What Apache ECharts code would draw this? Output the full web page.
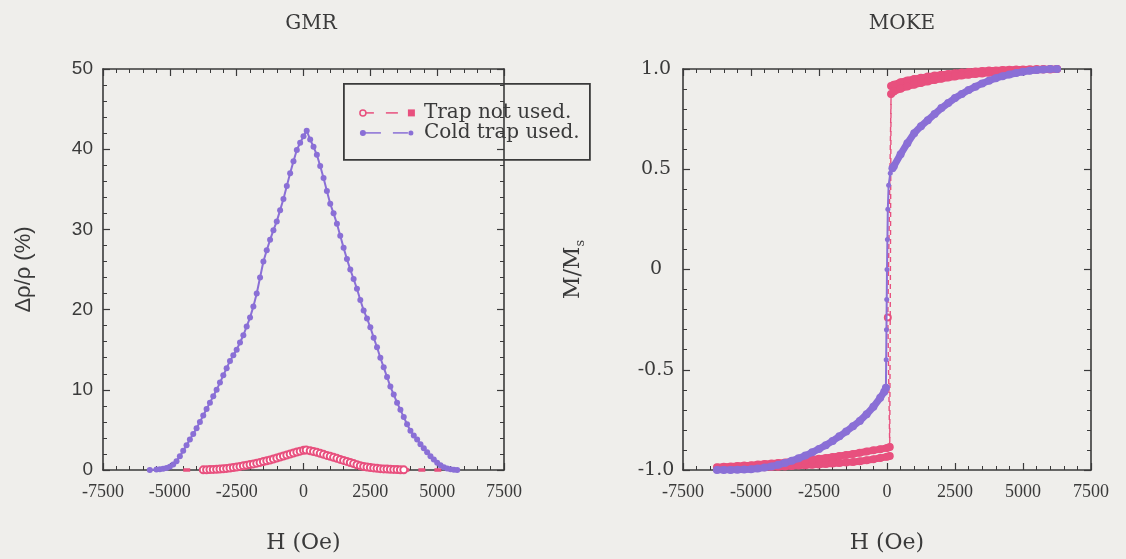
<!DOCTYPE html>
<html>
<head>
<meta charset="utf-8">
<script src="https://cdn.jsdelivr.net/npm/echarts@6/dist/echarts.min.js"></script>
<style>
  html, body { margin: 0; padding: 0; background: #efeeeb; }
  #chart { width: 1126px; height: 559px; }
</style>
</head>
<body>
<div id="chart"></div>
<script>
// ---------------- GMR: Δρ/ρ (%) versus H (Oe) ----------------
const gmrColdField = [-5750, -5500, -5375, -5250, -5125, -5000, -4875, -4750, -4625, -4500, -4375, -4250,
  -4125, -4000, -3875, -3750, -3625, -3500, -3375, -3250, -3125, -3000, -2875, -2750, -2625, -2500, -2375,
  -2250, -2125, -2000, -1875, -1750, -1625, -1500, -1375, -1250, -1125, -1000, -875, -750, -625, -500,
  -375, -250, -125, 0, 120, 250, 375, 500, 625, 750, 875, 1000, 1125, 1250, 1375, 1500, 1625, 1750, 1875,
  2000, 2125, 2250, 2375, 2500, 2625, 2750, 2875, 3000, 3125, 3250, 3375, 3500, 3625, 3750, 3875, 4000,
  4125, 4250, 4375, 4500, 4625, 4750, 4875, 5000, 5125, 5250, 5375, 5500, 5625, 5750];
const gmrCold = [0, 0.05, 0.08, 0.15, 0.25, 0.4, 0.7, 1.1, 1.7, 2.4, 3.1, 3.8,
  4.5, 5.2, 6.0, 6.8, 7.6, 8.4, 9.2, 10.0, 10.9, 11.8, 12.7, 13.6, 14.3, 15.0, 15.9,
  16.8, 17.9, 19.0, 20.4, 22.0, 24.0, 26.0, 27.4, 28.7, 29.9, 31.0, 32.4, 33.8, 35.4, 37.0,
  38.5, 39.9, 40.8, 41.6, 42.3, 41.2, 40.3, 39.3, 37.9, 36.4, 34.8, 33.2, 32.0, 30.7, 29.2, 27.7, 26.3, 25.0, 23.8,
  22.6, 21.2, 19.9, 18.9, 17.8, 16.5, 15.3, 14.0, 12.8, 11.6, 10.4, 9.4, 8.4, 7.5, 6.6, 5.7, 4.9,
  4.3, 3.8, 3.2, 2.7, 2.2, 1.7, 1.3, 0.9, 0.6, 0.35, 0.2, 0.1, 0.03, 0];

const gmrNoTrapField = [-4500, -4250, -4000, -3750, -3625, -3500, -3375, -3250, -3125, -3000, -2875, -2750,
  -2625, -2500, -2375, -2250, -2125, -2000, -1875, -1750, -1625, -1500, -1375, -1250, -1125, -1000, -875,
  -750, -625, -500, -375, -250, -125, 0, 100, 250, 375, 500, 625, 750, 875, 1000, 1125, 1250, 1375, 1500,
  1625, 1750, 1875, 2000, 2125, 2250, 2375, 2500, 2625, 2750, 2875, 3000, 3125, 3250, 3375, 3500, 3625,
  3750, 4000, 4250, 4500, 4750, 5000, 5250, 5500, 5750];
const gmrNoTrap = [0, 0, 0, 0.02, 0.03, 0.05, 0.07, 0.1, 0.12, 0.15, 0.2, 0.25,
  0.31, 0.38, 0.45, 0.52, 0.6, 0.68, 0.76, 0.85, 0.95, 1.05, 1.15, 1.25, 1.37, 1.5, 1.62,
  1.75, 1.87, 2.0, 2.12, 2.25, 2.35, 2.45, 2.5, 2.4, 2.3, 2.2, 2.08, 1.95, 1.82, 1.7, 1.58, 1.45, 1.32, 1.2,
  1.07, 0.93, 0.8, 0.66, 0.53, 0.44, 0.37, 0.31, 0.26, 0.21, 0.17, 0.14, 0.12, 0.1, 0.07, 0.05, 0.03,
  0.02, 0, 0, 0, 0, 0, 0, 0, 0];

// ---------------- MOKE: M/Ms versus H (Oe) ----------------
// cold trap used: negative branch, switching part, positive branch
const mokeColdLowField = [-6250, -6000, -5750, -5500, -5250, -5000, -4750, -4500, -4250, -4000, -3750,
  -3500, -3250, -3000, -2750, -2500, -2250, -2000, -1750, -1500, -1250, -1000, -750, -500, -250, -100, -40];
const mokeColdLow = [-1.0, -1.0, -1.0, -0.999, -0.998, -0.996, -0.993, -0.988, -0.982, -0.974, -0.965,
  -0.954, -0.942, -0.928, -0.912, -0.895, -0.876, -0.855, -0.832, -0.808, -0.782, -0.755, -0.722, -0.685,
  -0.64, -0.61, -0.59];
const mokeColdSwitchField = [-40, -30, -20, -10, 0, 15, 30, 60, 120, 200];
const mokeColdSwitch = [-0.59, -0.45, -0.3, -0.15, 0, 0.15, 0.3, 0.42, 0.48, 0.505];
const mokeColdHighField = [200, 250, 500, 750, 1000, 1250, 1500, 1750, 2000, 2250, 2500, 2750, 3000, 3250,
  3500, 3750, 4000, 4250, 4500, 4750, 5000, 5250, 5500, 5750, 6000, 6250];
const mokeColdHigh = [0.505, 0.515, 0.575, 0.63, 0.68, 0.715, 0.745, 0.775, 0.805, 0.83, 0.855, 0.875, 0.895,
  0.912, 0.928, 0.942, 0.954, 0.964, 0.972, 0.98, 0.986, 0.991, 0.995, 0.998, 1.0, 1.0];

// trap not used: two saturated branches for each sweep direction, plus the switching jumps
const mokeHighField = [150, 250, 500, 750, 1000, 1250, 1500, 1750, 2000, 2250, 2500, 2750, 3000, 3250,
  3500, 3750, 4000, 4250, 4500, 4750, 5000, 5250, 5500, 5750, 6000, 6250];
const mokeNoTrapHighDown = [0.915, 0.922, 0.934, 0.943, 0.95, 0.956, 0.962, 0.967, 0.971, 0.975, 0.979,
  0.982, 0.985, 0.988, 0.99, 0.992, 0.993, 0.995, 0.996, 0.997, 0.998, 0.999, 1.0, 1.0, 1.0, 1.0];
const mokeNoTrapHighUp = [0.875, 0.888, 0.902, 0.913, 0.922, 0.93, 0.938, 0.945, 0.951, 0.957, 0.962,
  0.967, 0.971, 0.975, 0.978, 0.981, 0.984, 0.987, 0.989, 0.991, 0.993, 0.995, 0.996, 0.997, 0.998, 1.0];

const mokeLowField = [-6250, -6000, -5750, -5500, -5250, -5000, -4750, -4500, -4250, -4000, -3750, -3500,
  -3250, -3000, -2750, -2500, -2250, -2000, -1750, -1500, -1250, -1000, -750, -500, -250, 0, 100];
const mokeNoTrapLowDown = [-0.995, -0.994, -0.993, -0.992, -0.99, -0.989, -0.988, -0.986, -0.985, -0.984,
  -0.982, -0.98, -0.978, -0.976, -0.974, -0.972, -0.97, -0.968, -0.965, -0.962, -0.96, -0.956, -0.951,
  -0.946, -0.94, -0.934, -0.93];
const mokeNoTrapLowUp = [-0.986, -0.984, -0.982, -0.98, -0.978, -0.976, -0.973, -0.97, -0.968, -0.965,
  -0.962, -0.958, -0.955, -0.952, -0.948, -0.944, -0.94, -0.935, -0.93, -0.925, -0.92, -0.914, -0.908,
  -0.902, -0.896, -0.89, -0.885];

const mokeJumpDownField = [150, 100];
const mokeJumpDown = [0.915, -0.93];
const mokeJumpUpField = [100, 30, 150];
const mokeJumpUp = [-0.885, -0.24, 0.875];

// ---------------- axes ----------------
const fieldTicks = [-7500, -5000, -2500, 0, 2500, 5000, 7500];
const fieldTickLabels = ['-7500', '-5000', '-2500', '0', '2500', '5000', '7500'];
const gmrTicks = [0, 10, 20, 30, 40, 50];
const gmrTickLabels = ['0', '10', '20', '30', '40', '50'];
const mokeTicks = [-1, -0.5, 0, 0.5, 1];
const mokeTickLabels = ['-1.0', '-0.5', '0', '0.5', '1.0'];

const seriesNames = ['Trap not used.', 'Cold trap used.'];
const panelTitles = ['GMR', 'MOKE'];

const PINK = '#e8507e';
const PURPLE = '#8a6fd6';
const INK = '#3a3a3a';
const BG = '#efeeeb';

function pairs(xs, ys) { return xs.map((x, i) => [x, ys[i]]); }
function lookup(ticks, labels) {
  return v => { const i = ticks.findIndex(t => Math.abs(t - v) < 1e-9); return i < 0 ? '' : labels[i]; };
}

const frameLine = { show: true, onZero: false, lineStyle: { color: INK, width: 1.6 } };
function frameAxis(extra) {
  return Object.assign({
    type: 'value',
    axisLine: frameLine,
    axisTick: { show: true, inside: true, length: 7, lineStyle: { color: INK, width: 1.2 } },
    minorTick: { show: true, splitNumber: 5, length: 4, lineStyle: { color: INK, width: 1 } },
    splitLine: { show: false },
    minorSplitLine: { show: false }
  }, extra);
}

const fieldLabel = {
  show: true, margin: 13, color: INK, fontFamily: 'Liberation Serif', fontSize: 18,
  formatter: lookup(fieldTicks, fieldTickLabels)
};
const fieldName = {
  name: 'H (Oe)', nameLocation: 'middle', nameGap: 62,
  nameTextStyle: { color: INK, fontFamily: 'DejaVu Serif', fontSize: 22 }
};

// thick saturated branch of the MOKE loop
function mokeBranch(name, xs, ys, color, z) {
  return {
    name: name, type: 'line', xAxisIndex: 2, yAxisIndex: 2,
    data: pairs(xs, ys),
    symbol: 'circle', symbolSize: 8,
    itemStyle: { color: color },
    lineStyle: { color: color, width: 7, cap: 'round', join: 'round' },
    z: z
  };
}

const option = {
  backgroundColor: BG,
  animation: false,
  title: [
    { text: panelTitles[0], left: 306, top: 9, textAlign: 'center',
      textStyle: { color: INK, fontFamily: 'DejaVu Serif', fontSize: 20, fontWeight: 'normal' } },
    { text: panelTitles[1], left: 897, top: 9, textAlign: 'center',
      textStyle: { color: INK, fontFamily: 'DejaVu Serif', fontSize: 20, fontWeight: 'normal' } }
  ],
  grid: [
    { left: 103, top: 69, width: 401, height: 401 },
    { left: 683, top: 69, width: 408, height: 401 }
  ],
  xAxis: [
    frameAxis(Object.assign({ gridIndex: 0, position: 'bottom', min: -7500, max: 7500, interval: 2500,
      axisLabel: fieldLabel }, fieldName)),
    frameAxis({ gridIndex: 0, position: 'top', min: -7500, max: 7500, interval: 2500, axisLabel: { show: false } }),
    frameAxis(Object.assign({ gridIndex: 1, position: 'bottom', min: -7500, max: 7500, interval: 2500,
      axisLabel: fieldLabel }, fieldName)),
    frameAxis({ gridIndex: 1, position: 'top', min: -7500, max: 7500, interval: 2500, axisLabel: { show: false } })
  ],
  yAxis: [
    frameAxis({ gridIndex: 0, position: 'left', min: 0, max: 50, interval: 10,
      axisLabel: { show: true, margin: 10, color: INK, fontFamily: 'Liberation Sans', fontSize: 19,
        formatter: lookup(gmrTicks, gmrTickLabels) },
      name: 'Δρ/ρ (%)', nameLocation: 'middle', nameGap: 68, nameRotate: 90,
      nameTextStyle: { color: INK, fontFamily: 'Liberation Sans', fontSize: 22 } }),
    frameAxis({ gridIndex: 0, position: 'right', min: 0, max: 50, interval: 10, axisLabel: { show: false } }),
    frameAxis({ gridIndex: 1, position: 'left', min: -1, max: 1, interval: 0.5,
      axisLabel: { show: true, margin: 27, align: 'center', color: INK, fontFamily: 'DejaVu Serif', fontSize: 19,
        formatter: lookup(mokeTicks, mokeTickLabels) },
      name: '{m|M/M}{s|s}', nameLocation: 'middle', nameGap: 96, nameRotate: 90,
      nameTextStyle: { color: INK, fontFamily: 'DejaVu Serif', fontSize: 22,
        rich: {
          m: { color: INK, fontFamily: 'DejaVu Serif', fontSize: 22 },
          s: { color: INK, fontFamily: 'DejaVu Serif', fontSize: 13, verticalAlign: 'bottom', padding: [14, 0, 0, 0] }
        } } }),
    frameAxis({ gridIndex: 1, position: 'right', min: -1, max: 1, interval: 0.5, axisLabel: { show: false } })
  ],
  series: [
    // GMR panel
    {
      name: seriesNames[0], type: 'line', xAxisIndex: 0, yAxisIndex: 0,
      data: pairs(gmrNoTrapField, gmrNoTrap),
      symbol: v => (v[1] > 0.01 ? 'emptyCircle' : 'none'), symbolSize: 7,
      itemStyle: { color: PINK, borderColor: PINK, borderWidth: 3 },
      lineStyle: { color: PINK, width: 3.5, type: [7, 9] },
      clip: false,
      z: 3
    },
    {
      name: seriesNames[1], type: 'line', xAxisIndex: 0, yAxisIndex: 0,
      data: pairs(gmrColdField, gmrCold),
      symbol: 'circle', symbolSize: 6,
      itemStyle: { color: PURPLE },
      lineStyle: { color: PURPLE, width: 2 },
      z: 4
    },
    // MOKE panel, trap not used
    mokeBranch(seriesNames[0], mokeLowField, mokeNoTrapLowDown, PINK, 3),
    mokeBranch(seriesNames[0], mokeLowField, mokeNoTrapLowUp, PINK, 3),
    mokeBranch(seriesNames[0], mokeHighField, mokeNoTrapHighDown, PINK, 3),
    mokeBranch(seriesNames[0], mokeHighField, mokeNoTrapHighUp, PINK, 3),
    {
      name: seriesNames[0], type: 'line', xAxisIndex: 2, yAxisIndex: 2,
      data: pairs(mokeJumpDownField, mokeJumpDown),
      symbol: 'none',
      lineStyle: { color: PINK, width: 1.4, type: [5, 4] },
      z: 3
    },
    {
      name: seriesNames[0], type: 'line', xAxisIndex: 2, yAxisIndex: 2,
      data: pairs(mokeJumpUpField, mokeJumpUp),
      symbol: v => (Math.abs(v[1]) < 0.5 ? 'emptyCircle' : 'none'), symbolSize: 6,
      itemStyle: { color: PINK, borderColor: PINK, borderWidth: 1.5 },
      lineStyle: { color: PINK, width: 1.4, type: [5, 4] },
      z: 3
    },
    // MOKE panel, cold trap used
    mokeBranch(seriesNames[1], mokeColdLowField, mokeColdLow, PURPLE, 4),
    {
      name: seriesNames[1], type: 'line', xAxisIndex: 2, yAxisIndex: 2,
      data: pairs(mokeColdSwitchField, mokeColdSwitch),
      symbol: 'circle', symbolSize: 5,
      itemStyle: { color: PURPLE },
      lineStyle: { color: PURPLE, width: 2 },
      z: 4
    },
    mokeBranch(seriesNames[1], mokeColdHighField, mokeColdHigh, PURPLE, 4)
  ],
  // boxed key in the GMR panel
  graphic: [{
    type: 'group', left: 343, top: 83, z: 100,
    children: [
      { type: 'rect', shape: { x: 0, y: 0, width: 246, height: 76 },
        style: { fill: BG, stroke: INK, lineWidth: 1.8 } },
      // row 1: open circle, dashes, filled square
      { type: 'circle', shape: { cx: 19, cy: 29, r: 3 }, style: { fill: BG, stroke: PINK, lineWidth: 1.5 } },
      { type: 'line', shape: { x1: 22, y1: 29, x2: 30, y2: 29 }, style: { stroke: PINK, lineWidth: 1.5 } },
      { type: 'line', shape: { x1: 42, y1: 29, x2: 54, y2: 29 }, style: { stroke: PINK, lineWidth: 1.5 } },
      { type: 'rect', shape: { x: 64, y: 25.5, width: 7, height: 7 }, style: { fill: PINK } },
      { type: 'text', x: 80, y: 29, style: { text: seriesNames[0], fill: INK, font: '20px "DejaVu Serif"',
        verticalAlign: 'middle' } },
      // row 2: filled circles joined by dashes
      { type: 'circle', shape: { cx: 19, cy: 49, r: 3 }, style: { fill: PURPLE } },
      { type: 'line', shape: { x1: 20, y1: 49, x2: 37, y2: 49 }, style: { stroke: PURPLE, lineWidth: 1.5 } },
      { type: 'line', shape: { x1: 49, y1: 49, x2: 64, y2: 49 }, style: { stroke: PURPLE, lineWidth: 1.5 } },
      { type: 'circle', shape: { cx: 67, cy: 49, r: 2.5 }, style: { fill: PURPLE } },
      { type: 'text', x: 80, y: 49, style: { text: seriesNames[1], fill: INK, font: '20px "DejaVu Serif"',
        verticalAlign: 'middle' } }
    ]
  }]
};

const chart = echarts.init(document.getElementById('chart'), null, { renderer: 'canvas' });
chart.setOption(option);
</script>
</body>
</html>
